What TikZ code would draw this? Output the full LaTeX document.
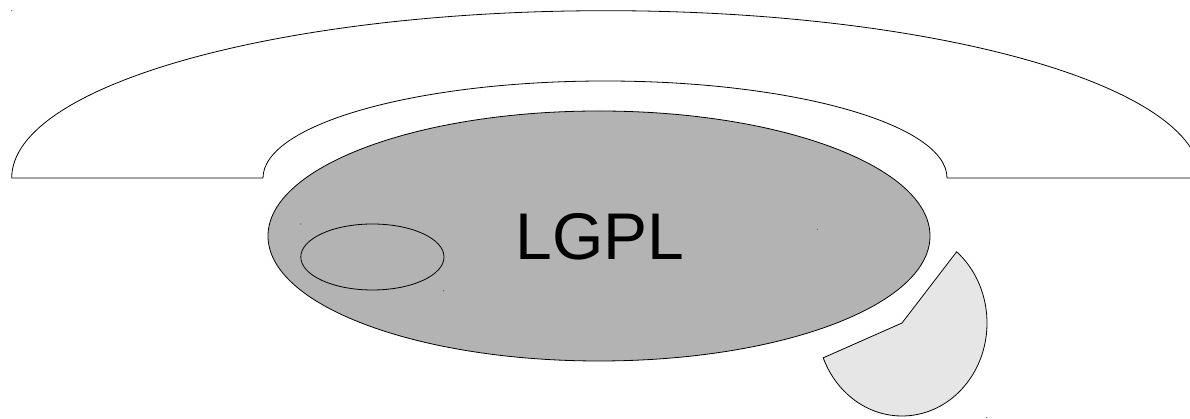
\documentclass[tikz,border=0pt]{standalone}
\usepackage{fontspec}
\setmainfont{Liberation Sans}
\definecolor{biggray}{HTML}{B3B3B3}
\definecolor{piegray}{HTML}{E6E6E6}
\begin{document}
\begin{tikzpicture}[x=1pt,y=1pt,
  outline/.style={draw=black,line width=0.8pt},
  speck/.style={fill=black!70,draw=none}]
\useasboundingbox (0,0) rectangle (1190,419);
\clip (0,0) rectangle (1190,419);
% arch
\path[outline,fill=white] (11.7,241)
  arc[start angle=180,end angle=0,x radius=594.3,y radius=167.3]
  -- (947,241)
  arc[start angle=0,end angle=180,x radius=342,y radius=97]
  -- cycle;
% big ellipse
\path[outline,fill=biggray] (599,183) ellipse[x radius=331,y radius=125];
% small ellipse
\path[outline] (372.4,162) ellipse[x radius=71.6,y radius=33];
% label
\node[anchor=base,inner sep=0pt,font=\fontsize{66}{66}\selectfont] (lgpl) at (600,159.5) {LGPL};
% pie piece
\coordinate (pc) at (902,96);
\path[outline,fill=piegray] (pc) -- ++(50:85 and 93)
  arc[start angle=50,end angle=-158,x radius=85,y radius=93] -- cycle;
% tiny specks
\foreach \p in {(11.7,408.3),(300.7,195),(443.7,128.3),(817.3,189.7),(986.7,1.5)}
  \fill[speck] \p circle (0.6);
\end{tikzpicture}
\end{document}
